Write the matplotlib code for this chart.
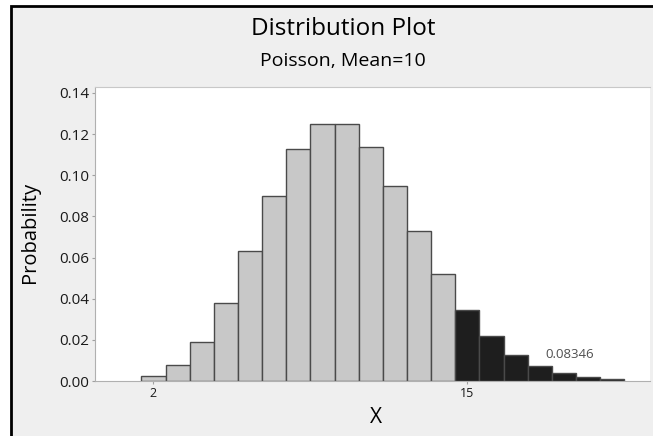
import matplotlib.pyplot as plt
from matplotlib.patches import Rectangle

# --- 데이터 (Poisson, Mean=10) ---
x_vals = [2, 3, 4, 5, 6, 7, 8, 9, 10, 11, 12, 13, 14, 15, 16, 17, 18, 19, 20, 21]
probs = [0.00227, 0.00757, 0.01892, 0.03783, 0.06306, 0.09008, 0.11260,
         0.12511, 0.12511, 0.11374, 0.09478, 0.07291, 0.05208, 0.03472,
         0.02170, 0.01276, 0.00709, 0.00373, 0.00187, 0.00089]
tail_start = 15
tail_label = "0.08346"
y_ticks = [0.00, 0.02, 0.04, 0.06, 0.08, 0.10, 0.12, 0.14]
x_ticks = [2, 15]

plt.rcParams["font.family"] = ["Open Sans", "DejaVu Sans"]

fig = plt.figure(figsize=(6.53, 4.36), dpi=100, facecolor="white")

# 바깥 테두리 (왼쪽/위만 보임)
fig.patches.append(Rectangle((11 / 653, -0.1), 1.2, (436 - 6) / 436 + 0.1,
                             transform=fig.transFigure, facecolor="#efefef",
                             edgecolor="black", linewidth=2, zorder=-10))

ax = fig.add_axes([95 / 653, 1 - 381 / 436, (650 - 95) / 653, (381 - 87) / 436])
ax.set_facecolor("white")

colors = ["#1e1e1e" if x >= tail_start else "#c8c8c8" for x in x_vals]
ax.bar(x_vals, probs, width=1.0, color=colors, edgecolor="#4a4a4a", linewidth=1.0)

ax.set_xlim(-0.42, 22.56)
ax.set_ylim(0, 0.1429)
ax.set_xticks(x_ticks)
ax.set_xticklabels([str(t) for t in x_ticks], fontsize=9)
ax.set_yticks(y_ticks)
ax.set_yticklabels([f"{t:.2f}" for t in y_ticks], fontsize=11)
ax.tick_params(axis="both", length=2, color="#a0a0a0", pad=2, labelcolor="#1a1a1a")

for side in ["left", "bottom", "top", "right"]:
    ax.spines[side].set_color("#b0b0b0")
ax.spines["top"].set_color("#c8c8c8")
ax.spines["right"].set_visible(False)

ax.text(19.25, 0.0131, tail_label, fontsize=9.5, color="#505050", ha="center", va="center")

fig.text(376 / 653, 1 - 417 / 436, "X", fontsize=15, ha="center", va="center")
fig.text(30 / 653, 1 - 232 / 436, "Probability", fontsize=14.5, rotation=90,
         ha="center", va="center")

fig.text(343 / 653, 1 - 29 / 436, "Distribution Plot", fontsize=17.5, ha="center", va="center")
fig.text(343 / 653, 1 - 61 / 436, "Poisson, Mean=10", fontsize=14, ha="center", va="center")

fig.savefig("out.png", dpi=100)
